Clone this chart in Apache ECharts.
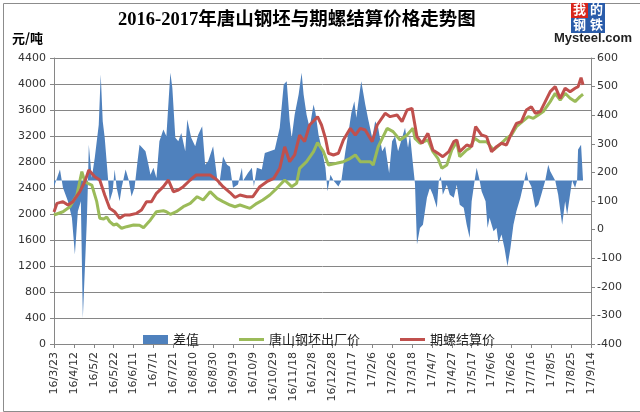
<!DOCTYPE html>
<html>
<head>
<meta charset="utf-8">
<title>2016-2017年唐山钢坯与期螺结算价格走势图</title>
<script src="https://cdn.jsdelivr.net/npm/echarts@6/dist/echarts.min.js"></script>
<style>
  html, body { margin: 0; padding: 0; background: #fff; }
  #chart { width: 640px; height: 412px; }
</style>
</head>
<body>
<div id="chart"></div>
<script>
// 横轴：从 16/3/23 起的天数，每 20 天一个刻度
const startDate = Date.UTC(2016, 2, 23)
const xMax = 540
const xStep = 20

// 唐山钢坯出厂价（左轴，元/吨）
const billetDays = [0, 9, 16, 23, 28, 31, 34, 38, 43, 46, 50, 53, 56, 60, 63, 68, 73, 80, 86, 90, 97, 103, 110, 113, 117, 123, 130, 137, 144, 150, 157, 164, 170, 177, 182, 187, 197, 204, 210, 217, 224, 232, 239, 244, 247, 254, 261, 265, 271, 276, 284, 291, 298, 303, 308, 318, 321, 326, 335, 341, 348, 355, 361, 363, 368, 376, 381, 386, 390, 395, 400, 405, 408, 415, 418, 423, 428, 435, 442, 448, 455, 460, 465, 471, 477, 482, 487, 492, 499, 504, 509, 514, 519, 524, 529, 532]
const billetVals = [1985, 2035, 2112, 2292, 2651, 2497, 2472, 2446, 2190, 1934, 1923, 1954, 1882, 1831, 1846, 1780, 1805, 1831, 1826, 1790, 1908, 2035, 2050, 2035, 1995, 2035, 2112, 2164, 2266, 2215, 2343, 2241, 2190, 2138, 2112, 2138, 2087, 2164, 2215, 2292, 2395, 2523, 2420, 2472, 2703, 2805, 2959, 3100, 2959, 2754, 2780, 2805, 2857, 2908, 2805, 2805, 2754, 3035, 3318, 3267, 3139, 3215, 3318, 3164, 3088, 3139, 2959, 2857, 2703, 2754, 2985, 3113, 2882, 2985, 3011, 3164, 3113, 3113, 2985, 3062, 3164, 3215, 3344, 3421, 3498, 3472, 3523, 3575, 3729, 3857, 3754, 3857, 3780, 3729, 3806, 3842]

// 期螺结算价（左轴，元/吨）
const rebarDays = [0, 3, 9, 14, 19, 26, 31, 35, 41, 46, 51, 56, 61, 66, 71, 76, 83, 88, 93, 98, 103, 110, 115, 120, 125, 130, 137, 143, 150, 157, 164, 170, 177, 182, 187, 194, 200, 207, 214, 221, 227, 232, 237, 242, 247, 252, 257, 262, 265, 269, 273, 276, 281, 286, 291, 298, 303, 308, 313, 320, 325, 333, 338, 345, 350, 355, 360, 365, 370, 376, 381, 386, 391, 397, 402, 405, 408, 415, 420, 424, 430, 435, 440, 445, 450, 455, 460, 465, 470, 475, 480, 484, 489, 494, 499, 504, 509, 514, 519, 524, 527, 530, 532]
const rebarVals = [2030, 2164, 2190, 2138, 2190, 2343, 2497, 2677, 2574, 2523, 2292, 2087, 2035, 1934, 1985, 1985, 2010, 2061, 2190, 2190, 2318, 2420, 2523, 2343, 2369, 2420, 2523, 2600, 2600, 2600, 2523, 2420, 2330, 2254, 2292, 2266, 2266, 2420, 2497, 2549, 2703, 3035, 2805, 2908, 3215, 3113, 3369, 3446, 3498, 3369, 3164, 2934, 2908, 2934, 3139, 3318, 3215, 3318, 3292, 3113, 3369, 3549, 3498, 3523, 3421, 3600, 3626, 3190, 3088, 3241, 2985, 2934, 2882, 2959, 3113, 3139, 2959, 3062, 3036, 3344, 3215, 3190, 2959, 3036, 3088, 3062, 3241, 3395, 3421, 3600, 3651, 3549, 3575, 3729, 3882, 3959, 3780, 3934, 3882, 3934, 3959, 4097, 3985]

// 差值（右轴），面积以 172 为基线
const diffBase = 172
const diffDays = [0, 6, 9, 14, 18, 21, 24, 27, 29, 33, 34, 35, 38, 41, 45, 47, 49, 51, 54, 56, 59, 61, 63, 66, 68, 72, 75, 78, 81, 84, 86, 92, 95, 97, 100, 103, 106, 110, 113, 117, 119, 122, 125, 128, 132, 134, 138, 142, 145, 149, 152, 155, 160, 164, 166, 170, 174, 177, 180, 185, 189, 190, 195, 199, 201, 204, 209, 212, 217, 222, 227, 231, 234, 237, 239, 242, 246, 249, 251, 254, 257, 261, 263, 266, 269, 273, 275, 278, 281, 286, 289, 293, 296, 299, 302, 304, 308, 309, 313, 316, 320, 323, 326, 330, 333, 337, 340, 343, 346, 350, 353, 356, 358, 361, 363, 365, 368, 371, 375, 378, 381, 385, 387, 389, 391, 395, 398, 402, 405, 408, 412, 415, 418, 420, 423, 425, 428, 430, 434, 436, 438, 442, 445, 447, 450, 453, 456, 459, 462, 465, 469, 472, 475, 477, 480, 484, 487, 490, 494, 497, 499, 501, 504, 507, 511, 514, 516, 521, 524, 526, 527, 530, 532]
const diffVals = [150, 210, 146, 99, 41, -87, 64, 99, -309, 29, 146, 297, 181, 251, 367, 542, 379, 321, 192, 99, 134, 210, 146, 99, 146, 210, 175, 116, 146, 239, 297, 274, 227, 192, 216, 180, 309, 350, 326, 548, 496, 321, 309, 338, 274, 385, 321, 291, 332, 361, 227, 239, 291, 180, 152, 256, 227, 220, 146, 158, 216, 170, 198, 216, 151, 216, 210, 268, 274, 280, 356, 507, 519, 379, 321, 402, 472, 548, 472, 402, 356, 437, 408, 332, 286, 216, 134, 192, 172, 151, 172, 274, 338, 408, 449, 391, 496, 519, 437, 385, 321, 379, 356, 274, 291, 198, 309, 326, 274, 321, 356, 286, 332, 227, 160, -52, 6, 17, 111, 146, 122, 76, 172, 186, 122, 157, 122, 111, 157, 87, 76, 17, -29, 99, 172, 216, 172, 134, 99, 6, 41, -6, 6, -47, -17, -64, -128, -64, 17, 64, 111, 157, 204, 172, 151, 76, 87, 122, 172, 227, 204, 210, 172, 122, 17, 99, 52, 172, 146, 172, 280, 297, 172]

const zip = (xs, ys) => xs.map((x, i) => [x, ys[i]])

function dayLabel(v) {
  const d = new Date(startDate + v * 86400000)
  return (d.getUTCFullYear() % 100) + '/' + (d.getUTCMonth() + 1) + '/' + d.getUTCDate()
}

const axisColor = '#868686'
const labelFont = { fontFamily: 'DejaVu Sans', fontSize: 11, color: '#333' }
const cjkFont = "'Noto Sans CJK SC'"
// 图例里的细线图标（上下留空，中间一条粗线）
const lineIcon = 'path://M0,0L0.01,0L0,0.01ZM0,3H25V6H0ZM0,9L0.01,9L0,8.99Z'

const chart = echarts.init(document.getElementById('chart'))
const option = {
  animation: false,
  backgroundColor: '#fff',
  title: {
    text: '2016-2017年唐山钢坯与期螺结算价格走势图',
    left: 113,
    top: 6,
    textStyle: { fontFamily: "'Liberation Serif', 'Noto Sans CJK SC'", fontSize: 18.5, fontWeight: 'bold', color: '#000' }
  },
  grid: { left: 54, right: 49, top: 58, bottom: 68 },
  legend: {
    left: 138,
    top: 328,
    itemWidth: 25,
    itemHeight: 9,
    itemGap: 40,
    textStyle: { fontFamily: cjkFont, fontSize: 13, color: '#222' },
    data: [
      { name: '差值', icon: 'rect' },
      { name: '唐山钢坯出厂价', icon: lineIcon },
      { name: '期螺结算价', icon: lineIcon }
    ]
  },
  xAxis: {
    type: 'value',
    min: 0,
    max: xMax,
    interval: xStep,
    splitLine: { show: false },
    axisLine: { lineStyle: { color: axisColor } },
    axisTick: { length: 4, lineStyle: { color: axisColor } },
    axisLabel: Object.assign({ rotate: 90, margin: 8, formatter: dayLabel }, labelFont)
  },
  yAxis: [
    {
      type: 'value',
      min: 0,
      max: 4400,
      interval: 400,
      axisLine: { show: true, lineStyle: { color: axisColor } },
      axisTick: { show: true, length: 4, lineStyle: { color: axisColor } },
      splitLine: { lineStyle: { color: axisColor, width: 1 } },
      axisLabel: Object.assign({ margin: 8, formatter: v => String(v) }, labelFont)
    },
    {
      type: 'value',
      min: -400,
      max: 600,
      interval: 100,
      position: 'right',
      axisLine: { show: true, lineStyle: { color: axisColor } },
      axisTick: { show: true, length: 4, lineStyle: { color: axisColor } },
      splitLine: { show: false },
      axisLabel: Object.assign({ margin: 6, formatter: v => String(v) }, labelFont)
    }
  ],
  series: [
    {
      name: '差值',
      type: 'line',
      yAxisIndex: 1,
      data: zip(diffDays, diffVals),
      showSymbol: false,
      symbol: 'none',
      itemStyle: { color: '#4f81bd' },
      lineStyle: { width: 0 },
      areaStyle: { color: '#4f81bd', opacity: 1, origin: diffBase },
      z: 1
    },
    {
      name: '唐山钢坯出厂价',
      type: 'line',
      data: zip(billetDays, billetVals),
      symbol: 'none',
      itemStyle: { color: '#9bbb59' },
      lineStyle: { width: 3, color: '#9bbb59' },
      z: 3
    },
    {
      name: '期螺结算价',
      type: 'line',
      data: zip(rebarDays, rebarVals),
      symbol: 'none',
      itemStyle: { color: '#c0504d' },
      lineStyle: { width: 3, color: '#c0504d' },
      z: 4
    }
  ],
  graphic: [
    // 外框
    { type: 'rect', left: 1, top: 1, shape: { width: 637, height: 408 }, style: { fill: 'none', stroke: '#8c8c8c', lineWidth: 1 }, silent: true },
    { type: 'text', left: 12, top: 32, style: { text: '元/吨', font: "bold 13px 'Noto Sans CJK SC'", fill: '#000' } },
    // Mysteel 标志
    { type: 'rect', left: 571, top: 3, shape: { width: 17, height: 15 }, style: { fill: '#d9261c' } },
    { type: 'rect', left: 588, top: 3, shape: { width: 17, height: 15 }, style: { fill: '#2a5caa' } },
    { type: 'rect', left: 571, top: 18, shape: { width: 34, height: 15 }, style: { fill: '#2a5caa' } },
    { type: 'text', left: 573, top: 3, style: { text: '我', font: "bold 13px 'Noto Sans CJK SC'", fill: '#fff' } },
    { type: 'text', left: 590, top: 3, style: { text: '的', font: "bold 13px 'Noto Sans CJK SC'", fill: '#fff' } },
    { type: 'text', left: 573, top: 18, style: { text: '钢', font: "bold 13px 'Noto Sans CJK SC'", fill: '#fff' } },
    { type: 'text', left: 590, top: 18, style: { text: '铁', font: "bold 13px 'Noto Sans CJK SC'", fill: '#fff' } },
    { type: 'text', left: 554, top: 32, style: { text: 'Mysteel.com', font: "bold 13px 'Liberation Sans'", fill: '#222' } }
  ]
}
option && chart.setOption(option, true)
window.addEventListener('resize', function () {
  chart.resize()
})
</script>
</body>
</html>
